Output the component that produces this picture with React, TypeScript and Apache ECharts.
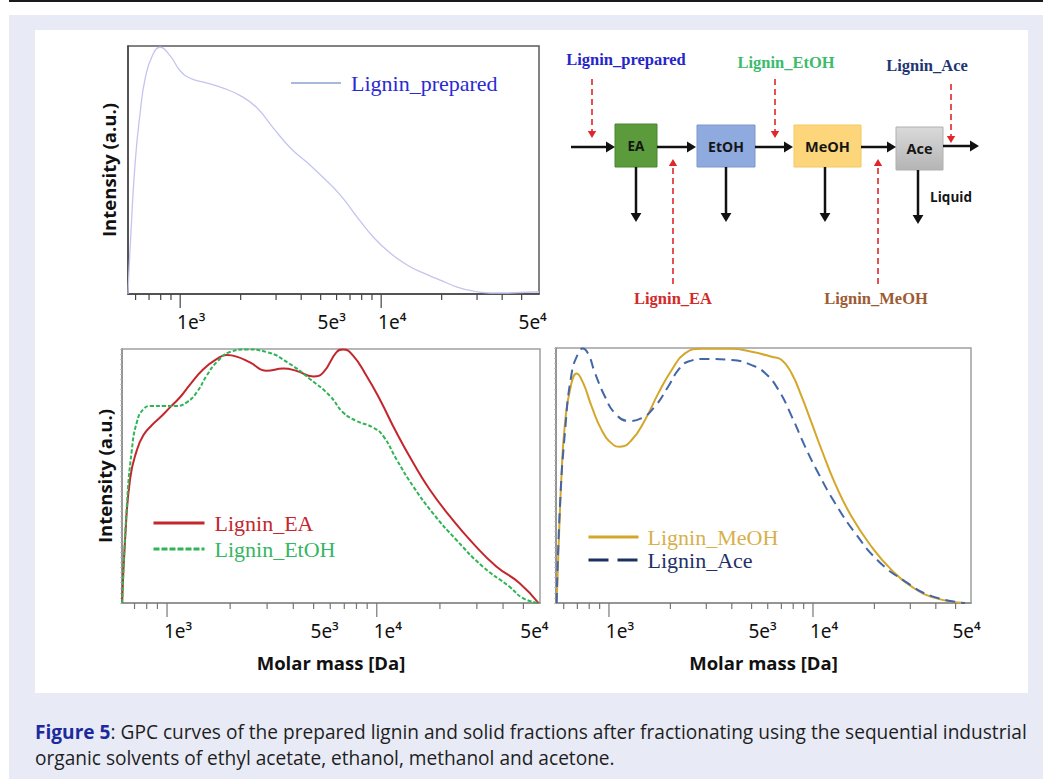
import React, { useEffect, useRef } from "react";
import * as echarts from "echarts";

// ---------- DATA (molar mass in Da, normalised intensity) ----------
const preparedMass = [550, 564, 597, 632, 670, 726, 795, 892, 1000, 1121, 1362, 1637, 1988, 2415, 2902, 3527, 4285, 5143, 6252, 7595, 9124, 11090, 13460, 16180, 19660, 23880, 28700, 34850, 42360, 57000, 61000];
const preparedIntensity = [0, 0.19, 0.53, 0.73, 0.87, 0.96, 0.995, 0.96, 0.9, 0.87, 0.85, 0.83, 0.8, 0.75, 0.67, 0.59, 0.53, 0.47, 0.4, 0.31, 0.23, 0.165, 0.117, 0.085, 0.056, 0.028, 0.012, 0.004, 0.004, 0.008, 0.008];

const eaMass = [611, 631, 667, 717, 771, 846, 926, 1033, 1153, 1287, 1489, 1724, 1924, 2147, 2485, 2985, 3580, 4140, 4973, 5550, 6430, 6911, 7710, 8930, 10330, 12410, 14890, 17870, 22280, 28770, 37150, 47980, 59000];
const eaIntensity = [0, 0.25, 0.49, 0.6, 0.66, 0.7, 0.73, 0.77, 0.81, 0.86, 0.92, 0.96, 0.976, 0.97, 0.947, 0.914, 0.923, 0.914, 0.892, 0.907, 0.988, 0.998, 0.974, 0.895, 0.802, 0.671, 0.553, 0.447, 0.342, 0.235, 0.144, 0.078, 0];

const etohMass = [611, 643, 679, 717, 771, 846, 960, 1112, 1241, 1385, 1545, 1724, 1995, 2397, 2985, 3853, 4797, 5970, 6911, 8000, 9600, 10720, 12410, 14890, 18540, 23970, 32060, 42970, 49770, 59000];
const etohIntensity = [0, 0.38, 0.6, 0.71, 0.763, 0.776, 0.776, 0.776, 0.79, 0.829, 0.895, 0.948, 0.988, 0.998, 0.988, 0.941, 0.882, 0.816, 0.75, 0.717, 0.691, 0.658, 0.566, 0.46, 0.353, 0.248, 0.143, 0.064, 0.019, 0];

const meohMass = [554, 564, 586, 608, 644, 695, 748, 823, 921, 1031, 1132, 1292, 1502, 1745, 2030, 2358, 2847, 3996, 5006, 6275, 7025, 7865, 8803, 9854, 11030, 12820, 15480, 19400, 24310, 30460, 39630, 55590];
const meohIntensity = [0, 0.18, 0.51, 0.7, 0.835, 0.9, 0.862, 0.77, 0.678, 0.626, 0.613, 0.639, 0.718, 0.822, 0.914, 0.979, 0.997, 0.997, 0.985, 0.966, 0.953, 0.9, 0.809, 0.705, 0.6, 0.469, 0.338, 0.22, 0.129, 0.064, 0.02, 0];

const aceMass = [554, 575, 608, 656, 707, 743, 792, 854, 956, 1070, 1243, 1446, 1681, 1953, 2187, 2448, 2955, 3996, 5006, 5817, 6760, 7865, 9137, 10620, 12820, 16070, 20900, 28250, 38190, 55590];
const aceIntensity = [0, 0.378, 0.666, 0.9, 0.979, 0.998, 0.976, 0.902, 0.809, 0.744, 0.714, 0.725, 0.771, 0.849, 0.914, 0.947, 0.957, 0.953, 0.933, 0.902, 0.837, 0.732, 0.614, 0.509, 0.392, 0.275, 0.165, 0.085, 0.027, 0];

const tickMasses = [600, 700, 800, 900, 1000, 2000, 3000, 4000, 5000, 6000, 7000, 8000, 9000, 10000, 20000, 30000, 40000, 50000];
const tickLabelMasses = [1000, 5000, 10000, 50000];

const captionBold = "Figure 5";
const captionLine1 = ": GPC curves of the prepared lignin and solid fractions after fractionating using the sequential industrial";
const captionLine2 = "organic solvents of ethyl acetate, ethanol, methanol and acetone.";

// ---------- layout ----------
const panels = [
  { left: 128, top: 46, width: 411, height: 248, min: 550, max: 61000, frame: "#5a5a5a", axis: "#444", yName: "Intensity (a.u.)", xName: "", yTicks: false },
  { left: 122, top: 349, width: 418, height: 254, min: 610, max: 60000, frame: "#a0a0a0", axis: "#8a8a8a", yName: "Intensity (a.u.)", xName: "Molar mass [Da]", yTicks: true },
  { left: 556, top: 348, width: 415, height: 255, min: 550, max: 59500, frame: "#a0a0a0", axis: "#8a8a8a", yName: "", xName: "Molar mass [Da]", yTicks: true },
];

const SUP: Record<number, string> = { 2: "²", 3: "³", 4: "⁴", 5: "⁵" };
function formatMass(v: number): string {
  const e = Math.floor(Math.log10(v) + 1e-9);
  const m = Math.round(v / Math.pow(10, e));
  return `${m}e${SUP[e]}`;
}

const pairs = (xs: number[], ys: number[]) => xs.map((x, i) => [x, ys[i]]);

function measure(text: string, font: string): number {
  const ctx = document.createElement("canvas").getContext("2d");
  if (!ctx) return text.length * 10;
  ctx.font = font;
  return ctx.measureText(text).width;
}

function arrow(x1: number, y1: number, x2: number, y2: number, color: string, dashed: boolean, w: number, head: number) {
  const dx = x2 - x1, dy = y2 - y1;
  const len = Math.hypot(dx, dy);
  const ux = dx / len, uy = dy / len;
  const hx = x2 - ux * head, hy = y2 - uy * head;
  const px = -uy, py = ux;
  const hw = head * 0.6;
  const style: any = { stroke: color, lineWidth: w };
  if (dashed) style.lineDash = [6, 4];
  return [
    { type: "line", shape: { x1, y1, x2: hx, y2: hy }, style },
    { type: "polygon", shape: { points: [[x2, y2], [hx + px * hw, hy + py * hw], [hx - px * hw, hy - py * hw]] }, style: { fill: color } },
  ];
}

function box(x: number, y: number, w: number, h: number, fill: any, stroke: string, label: string, fs: number) {
  return [
    { type: "rect", shape: { x, y, width: w, height: h }, style: { fill, stroke, lineWidth: 1 } },
    { type: "text", x: x + w / 2, y: y + h / 2, style: { text: label, fontFamily: "Open Sans", fontWeight: "bold", fontSize: fs, fill: "#151515", align: "center", verticalAlign: "middle" } },
  ];
}

function diagText(text: string, x: number, y: number, color: string) {
  return { type: "text", x, y, style: { text, fontFamily: "Liberation Serif", fontWeight: "bold", fontSize: 16.5, fill: color, align: "center", verticalAlign: "middle" } };
}

export default function App() {
  const ref = useRef<HTMLDivElement>(null);

  useEffect(() => {
    if (!ref.current) return;
    const chart = echarts.init(ref.current, null, { renderer: "svg" });

    const tickColor = ["#444", "#777", "#777"];
    const tickRender = (gi: number) => (params: any, api: any) => {
      const v = api.value(0);
      const p = api.coord([v, 0]);
      const lg = Math.log10(v);
      const major = Math.abs(lg - Math.round(lg)) < 1e-6;
      return {
        type: "line",
        shape: { x1: p[0], y1: p[1], x2: p[0], y2: p[1] + (major ? 14 : 6) },
        style: { stroke: tickColor[gi], lineWidth: 1.2 },
      };
    };
    const labelRender = (params: any, api: any) => {
      const v = api.value(0);
      const p = api.coord([v, 0]);
      return {
        type: "text",
        x: p[0] + 11,
        y: p[1] + 28,
        style: { text: formatMass(v), fontFamily: "Noto Sans", fontSize: 19, fill: "#111", align: "center", verticalAlign: "middle" },
      };
    };

    const grid = panels.map((p) => ({ left: p.left, top: p.top, width: p.width, height: p.height, show: true, borderColor: p.frame, borderWidth: 1.5, backgroundColor: "transparent" }));
    const xAxis = panels.map((p, i) => ({
      type: "log", logBase: 10, gridIndex: i, min: p.min, max: p.max,
      axisLine: { show: true, lineStyle: { color: p.axis, width: 1.5 } },
      axisTick: { show: false }, axisLabel: { show: false }, splitLine: { show: false },
      name: p.xName, nameLocation: "middle", nameGap: 50,
      nameTextStyle: { fontFamily: "Open Sans", fontWeight: "bold", fontSize: 18.5, color: "#111" },
    }));
    const yAxis = panels.map((p, i) => ({
      type: "value", gridIndex: i, min: 0, max: 1, interval: 0.02,
      axisLine: { show: true, lineStyle: { color: p.axis, width: 1.5 } },
      axisTick: { show: p.yTicks, length: 2, lineStyle: { color: "#bbb", width: 0.8 } },
      axisLabel: { show: false }, splitLine: { show: false },
      name: p.yName, nameLocation: "middle", nameRotate: 90, nameGap: i === 0 ? 10 : 8,
      nameTextStyle: { fontFamily: "Open Sans", fontWeight: "bold", fontSize: 18.5, color: "#111" },
    }));

    const lineBase = { type: "line", showSymbol: false, symbol: "none", smooth: 0.5, silent: true };

    const series: any[] = [
      { ...lineBase, name: "Lignin_prepared", xAxisIndex: 0, yAxisIndex: 0, data: pairs(preparedMass, preparedIntensity), lineStyle: { color: "#c4c4ee", width: 1.3 }, itemStyle: { color: "#a9b9de" } },
      { ...lineBase, name: "Lignin_EA", xAxisIndex: 1, yAxisIndex: 1, data: pairs(eaMass, eaIntensity), lineStyle: { color: "#c3262c", width: 2 }, itemStyle: { color: "#c3262c" } },
      { ...lineBase, name: "Lignin_EtOH", xAxisIndex: 1, yAxisIndex: 1, data: pairs(etohMass, etohIntensity), lineStyle: { color: "#2fb556", width: 2, type: [4, 2] }, itemStyle: { color: "#2fb556" } },
      { ...lineBase, name: "Lignin_MeOH", xAxisIndex: 2, yAxisIndex: 2, data: pairs(meohMass, meohIntensity), lineStyle: { color: "#d4a62a", width: 2 }, itemStyle: { color: "#d4a62a" } },
      { ...lineBase, name: "Lignin_Ace", xAxisIndex: 2, yAxisIndex: 2, data: pairs(aceMass, aceIntensity), lineStyle: { color: "#4366a8", width: 2, type: [10, 6] }, itemStyle: { color: "#4366a8" } },
    ];
    panels.forEach((p, i) => {
      series.push({
        type: "custom", name: "ticks" + i, xAxisIndex: i, yAxisIndex: i, silent: true, clip: false,
        renderItem: tickRender(i),
        data: tickMasses.filter((m) => m >= p.min && m <= p.max).map((m) => [m, 0]),
      });
      series.push({
        type: "custom", name: "labels" + i, xAxisIndex: i, yAxisIndex: i, silent: true, clip: false,
        renderItem: labelRender,
        data: tickLabelMasses.filter((m) => m >= p.min && m <= p.max).map((m) => [m, 0]),
      });
    });

    const hiddenSymbol = { opacity: 0, color: "transparent", borderWidth: 0 };
    const legendBase = { orient: "vertical", itemWidth: 50, itemHeight: 14, selectedMode: false, itemStyle: hiddenSymbol };
    const legend = [
      { ...legendBase, left: 285, top: 67, itemGap: 4,
        textStyle: { fontFamily: "Liberation Serif", fontSize: 22, lineHeight: 22, padding: [0, 0, 0, 5] },
        data: [{ name: "Lignin_prepared", textStyle: { color: "#2a2ad2" }, itemStyle: hiddenSymbol, lineStyle: { color: "#a9b9de", width: 2 } }] },
      { ...legendBase, left: 147, top: 507, itemWidth: 51, itemGap: 4,
        textStyle: { fontFamily: "Liberation Serif", fontSize: 22, lineHeight: 22, padding: [0, 0, 0, 5] },
        data: [
          { name: "Lignin_EA", textStyle: { color: "#c3262c" }, itemStyle: hiddenSymbol, lineStyle: { color: "#c3262c", width: 3 } },
          { name: "Lignin_EtOH", textStyle: { color: "#36b562" }, itemStyle: hiddenSymbol, lineStyle: { color: "#2fb556", width: 3, type: [6, 2] } },
        ] },
      { ...legendBase, left: 582, top: 521, itemGap: 1,
        textStyle: { fontFamily: "Liberation Serif", fontSize: 22, lineHeight: 22, padding: [0, 0, 0, 4] },
        data: [
          { name: "Lignin_MeOH", textStyle: { color: "#d8b04a" }, itemStyle: hiddenSymbol, lineStyle: { color: "#d4a62a", width: 3 } },
          { name: "Lignin_Ace", textStyle: { color: "#1e3166" }, itemStyle: hiddenSymbol, lineStyle: { color: "#1d3160", width: 3, type: [20, 9] } },
        ] },
    ];

    // caption scaling (condensed look)
    const capFont = 20;
    const wBold = measure(captionBold, `bold ${capFont}px "Open Sans"`);
    const wRest = measure(captionLine1, `${capFont}px "Open Sans"`);
    const capScale = 993 / (wBold + wRest);

    const aceFill = new echarts.graphic.LinearGradient(0, 0, 0, 1, [
      { offset: 0, color: "#dadada" },
      { offset: 1, color: "#b4b4b4" },
    ]);

    const elements: any[] = [
      // flow diagram
      ...box(615, 124, 42, 43, "#5b9b3b", "#4b8431", "EA", 13.5),
      ...box(697, 125, 58, 42, "#8faadf", "#7d97cf", "EtOH", 14),
      ...box(794, 125, 67, 42, "#fdd67b", "#f3c963", "MeOH", 14.5),
      ...box(896, 127, 47, 43, aceFill, "#b0b0b0", "Ace", 14.5),
      ...arrow(571, 147, 615, 147, "#111", false, 2.5, 9),
      ...arrow(657, 147, 696, 147, "#111", false, 2.5, 9),
      ...arrow(755, 147, 793, 147, "#111", false, 2.5, 9),
      ...arrow(861, 147, 896, 147, "#111", false, 2.5, 9),
      ...arrow(943, 146, 979, 146, "#111", false, 2.5, 9),
      ...arrow(636, 167, 636, 222, "#111", false, 2.5, 9),
      ...arrow(726, 167, 726, 222, "#111", false, 2.5, 9),
      ...arrow(825, 167, 825, 222, "#111", false, 2.5, 9),
      ...arrow(918, 170, 918, 224, "#111", false, 2.5, 9),
      ...arrow(592, 79, 592, 138, "#e0262a", true, 1.6, 7),
      ...arrow(775, 79, 775, 138, "#e0262a", true, 1.6, 7),
      ...arrow(951, 84, 951, 143, "#e0262a", true, 1.6, 7),
      ...arrow(673, 284, 673, 159, "#e0262a", true, 1.6, 7),
      ...arrow(878, 284, 878, 159, "#e0262a", true, 1.6, 7),
      diagText("Lignin_prepared", 626, 59, "#2626c9"),
      diagText("Lignin_EtOH", 786, 62, "#3bbb6c"),
      diagText("Lignin_Ace", 927, 65, "#1e3573"),
      diagText("Lignin_EA", 673, 298, "#d22a2a"),
      diagText("Lignin_MeOH", 876, 298, "#9c5b33"),
      { type: "text", x: 951, y: 197, style: { text: "Liquid", fontFamily: "Open Sans", fontWeight: "bold", fontSize: 13.5, fill: "#151515", align: "center", verticalAlign: "middle" } },
      // caption
      {
        type: "text", x: 35, y: 731, scaleX: capScale,
        style: {
          text: `{b|${captionBold}}{r|${captionLine1}}`,
          verticalAlign: "middle",
          rich: {
            b: { fontFamily: "Open Sans", fontWeight: "bold", fontSize: capFont, fill: "#1c2a9e" },
            r: { fontFamily: "Open Sans", fontSize: capFont, fill: "#1e1e1e" },
          },
        },
      },
      {
        type: "text", x: 35, y: 757, scaleX: capScale,
        style: { text: captionLine2, fontFamily: "Open Sans", fontSize: capFont, fill: "#1e1e1e", verticalAlign: "middle" },
      },
    ];

    chart.setOption({
      animation: false,
      backgroundColor: "transparent",
      grid, xAxis, yAxis, series, legend,
      graphic: { elements },
    });

    return () => chart.dispose();
  }, []);

  return (
    <div style={{ position: "absolute", left: 0, top: 0, width: 1043, height: 779, background: "#fff", overflow: "hidden" }}>
      <div style={{ position: "absolute", left: 9, top: 0, width: 1034, height: 2, background: "#1a1a1a" }} />
      <div style={{ position: "absolute", left: 9, top: 15, width: 1034, height: 764, background: "#e8ebf6" }} />
      <div style={{ position: "absolute", left: 35, top: 30, width: 993, height: 663, background: "#fff" }} />
      <div ref={ref} style={{ position: "absolute", left: 0, top: 0, width: 1043, height: 779 }} />
    </div>
  );
}
